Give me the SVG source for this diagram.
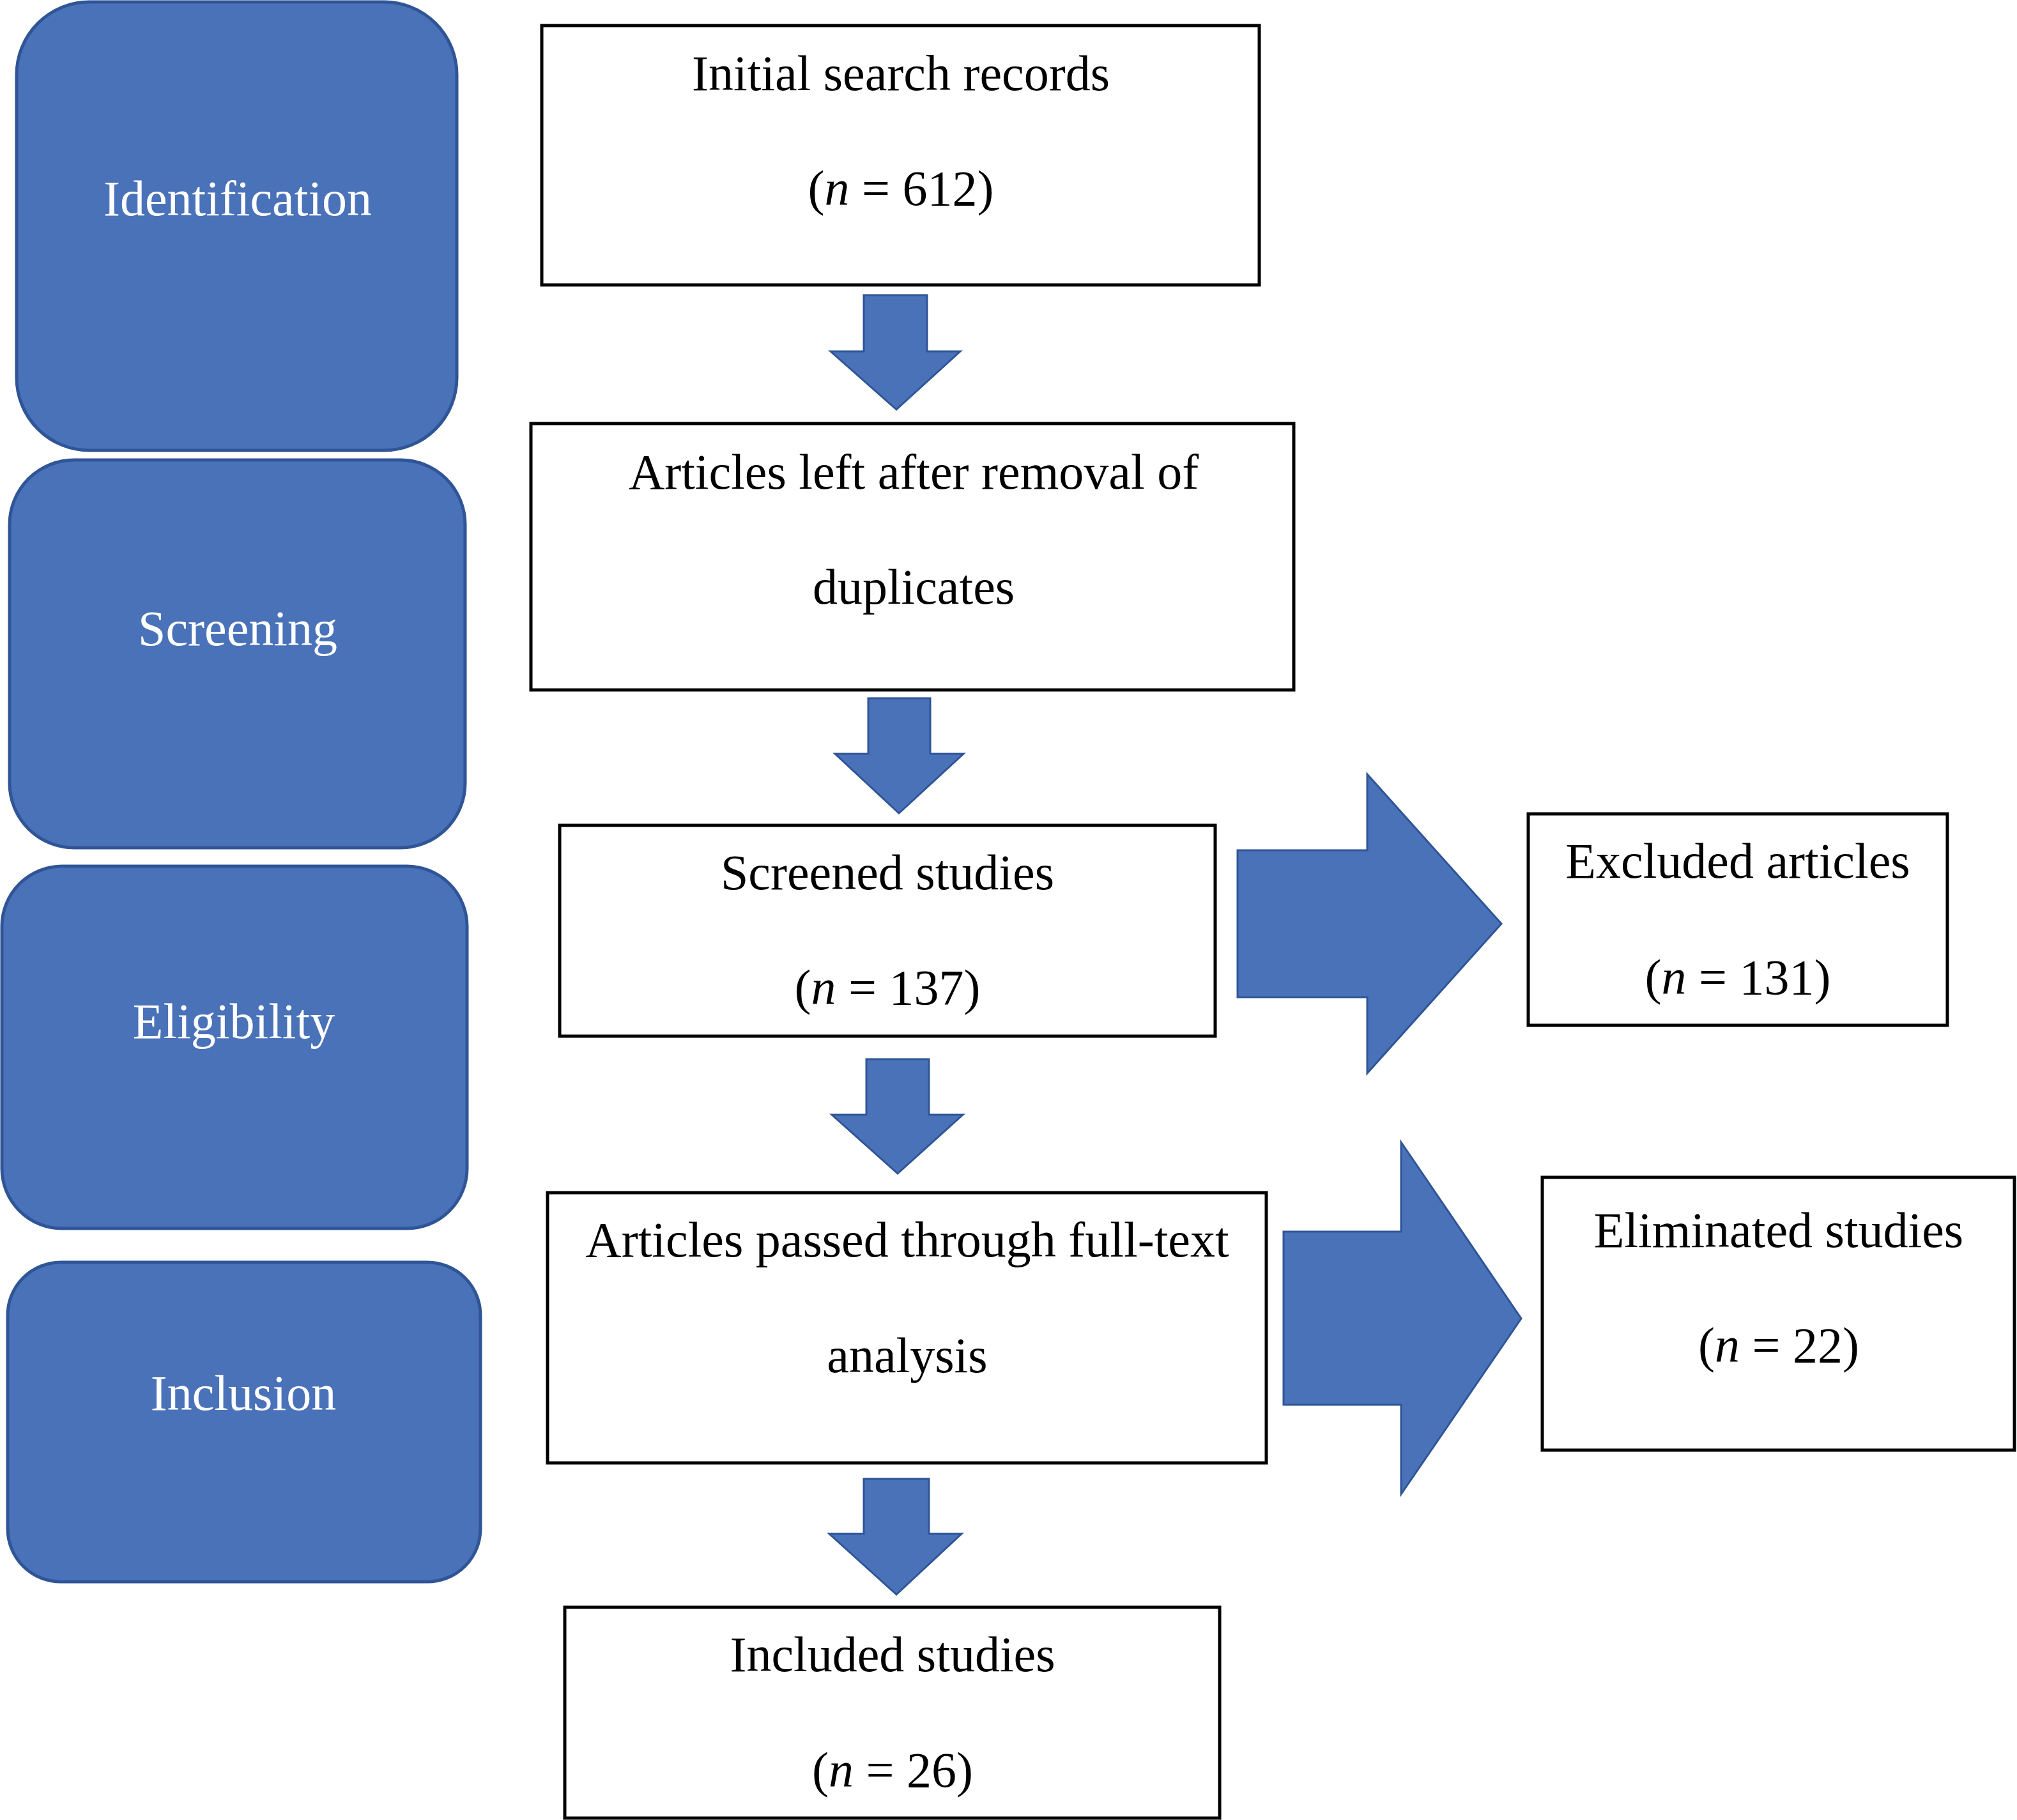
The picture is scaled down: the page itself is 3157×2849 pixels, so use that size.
<svg xmlns="http://www.w3.org/2000/svg" width="3157" height="2849" viewBox="0 0 3157 2849">
<style>
.stage{fill:#4A72B8;stroke:#2F5597;stroke-width:5}
.stxt{fill:#FFFFFF;font-family:"Liberation Serif","Times New Roman",serif;font-size:78px;text-anchor:middle}
.box{fill:#FFFFFF;stroke:#000000;stroke-width:5}
.btxt{fill:#000000;font-family:"Liberation Serif","Times New Roman",serif;font-size:78px;text-anchor:middle}
.arr{fill:#4A72B8;stroke:#2F5597;stroke-width:3;stroke-linejoin:miter}
.it{font-style:italic}
</style>
<rect width="3157" height="2849" fill="#FFFFFF"/>
<g id="stage-identification"><rect class="stage" x="26" y="3" width="689" height="702" rx="114" ry="114"/><text class="stxt" x="372" y="337">Identification</text></g>
<g id="stage-screening"><rect class="stage" x="15" y="720" width="713" height="607" rx="101" ry="101"/><text class="stxt" x="372" y="1010">Screening</text></g>
<g id="stage-eligibility"><rect class="stage" x="3" y="1356" width="728" height="567" rx="94" ry="94"/><text class="stxt" x="366" y="1625">Eligibility</text></g>
<g id="stage-inclusion"><rect class="stage" x="12" y="1976" width="740" height="500" rx="83" ry="83"/><text class="stxt" x="381" y="2207">Inclusion</text></g>

<g id="connectors">
<polygon class="arr" points="1352,462 1451,462 1451,550 1503,550 1403,641 1300,550 1352,550"/>
<polygon class="arr" points="1359,1093 1456,1093 1456,1180 1508,1180 1407,1273 1307,1180 1359,1180"/>
<polygon class="arr" points="1356,1658 1454,1658 1454,1745 1507,1745 1405,1837 1302,1745 1356,1745"/>
<polygon class="arr" points="1352,2315 1454,2315 1454,2401 1505,2401 1403,2496 1298,2401 1352,2401"/>
<polygon class="arr" points="1937,1331 2140,1331 2140,1212 2350,1446 2140,1680 2140,1561 1937,1561"/>
<polygon class="arr" points="2009,1928 2193,1928 2193,1788 2381,2064 2193,2339 2193,2199 2009,2199"/>
</g>

<g id="node-initial"><rect class="box" x="848" y="40" width="1123" height="406"/><text class="btxt" x="1410" y="141">Initial search records</text><text class="btxt" x="1410" y="321">(<tspan class="it">n</tspan> = 612)</text></g>
<g id="node-duplicates"><rect class="box" x="831" y="663" width="1194" height="417"/><text class="btxt" x="1430" y="765">Articles left after removal of</text><text class="btxt" x="1430" y="945">duplicates</text></g>
<g id="node-screened"><rect class="box" x="876" y="1292" width="1026" height="330"/><text class="btxt" x="1389" y="1392">Screened studies</text><text class="btxt" x="1389" y="1572">(<tspan class="it">n</tspan> = 137)</text></g>
<g id="node-excluded"><rect class="box" x="2392" y="1274" width="656" height="331"/><text class="btxt" x="2720" y="1374">Excluded articles</text><text class="btxt" x="2720" y="1556">(<tspan class="it">n</tspan> = 131)</text></g>
<g id="node-fulltext"><rect class="box" x="857" y="1867" width="1125" height="423"/><text class="btxt" x="1420" y="1967">Articles passed through full-text</text><text class="btxt" x="1420" y="2148">analysis</text></g>
<g id="node-eliminated"><rect class="box" x="2414" y="1843" width="739" height="427"/><text class="btxt" x="2784" y="1952">Eliminated studies</text><text class="btxt" x="2784" y="2132">(<tspan class="it">n</tspan> = 22)</text></g>
<g id="node-included"><rect class="box" x="884" y="2516" width="1025" height="330"/><text class="btxt" x="1397" y="2616">Included studies</text><text class="btxt" x="1397" y="2797">(<tspan class="it">n</tspan> = 26)</text></g>
</svg>
